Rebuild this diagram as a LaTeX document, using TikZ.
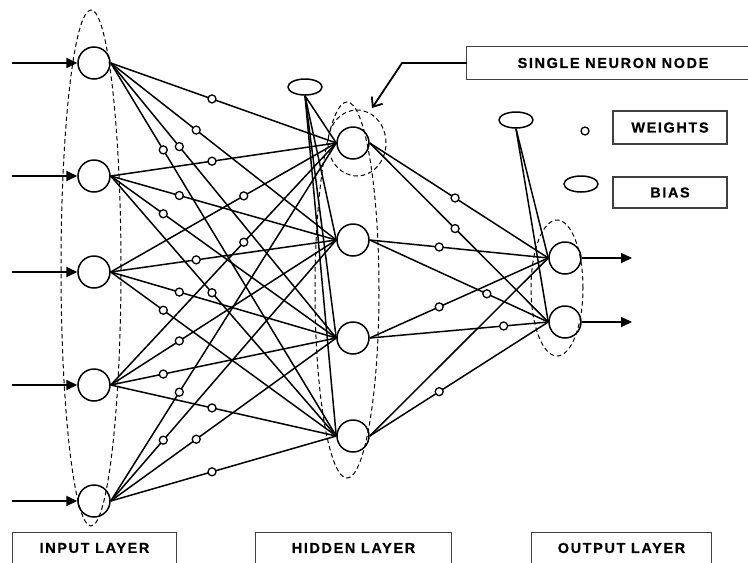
\documentclass[tikz,border=0pt]{standalone}
\usepackage{fontspec}
\setmainfont{Liberation Sans}
\usetikzlibrary{arrows.meta,shapes.geometric}

\begin{document}
\begin{tikzpicture}[x=1pt,y=-1pt,
  neuron/.style={circle,draw,line width=1.5pt,minimum size=32pt,inner sep=0pt},
  biasnode/.style={ellipse,draw,line width=1.5pt,minimum width=34pt,minimum height=16pt,inner sep=0pt},
  link/.style={line width=1.5pt},
  wt/.style={circle,draw,line width=1.3pt,fill=white,minimum size=8pt,inner sep=0pt},
  group/.style={dash pattern=on 4.5pt off 3pt,line width=1pt},
  lbl/.style={font=\bfseries\fontsize{14.5}{16}\selectfont\addfontfeatures{LetterSpace=11,FakeBold=0.5},inner sep=0pt},
  frame/.style={line width=1.3pt,draw=black!75},
  feed/.style={line width=2pt,-{Triangle[length=11pt,width=10pt]}}
]
\useasboundingbox (0,0) rectangle (748,563);

% layer groupings
\draw[group] (91,268) ellipse [x radius=30pt, y radius=258pt];
\draw[group] (347,290) ellipse [x radius=32pt, y radius=188pt];
\draw[group] (557,288) ellipse [x radius=26pt, y radius=68pt];
\draw[group] (357,143) ellipse [x radius=29pt, y radius=33pt];

% neurons
\foreach \i/\y in {1/63,2/176,3/272,4/385,5/501}
  \node[neuron] (I\i) at (94,\y) {};
\foreach \j/\y in {1/143,2/240,3/338,4/436}
  \node[neuron] (H\j) at (353,\y) {};
\node[neuron] (O1) at (565,258) {};
\node[neuron] (O2) at (565,322) {};

% biases
\node[biasnode] (hb) at (305,87) {};
\node[biasnode] (ob) at (516,120) {};
\foreach \j in {1,...,4}
  \draw[link] (hb.south) -- (H\j.west);
\draw[link] (ob.south) -- (O1.west);
\draw[link] (ob.south) -- (O2.west);

% input -> hidden weights
\foreach \i/\j/\t in {
  1/1/.449,1/2/.379,1/3/.304,1/4/.233,
  2/1/.449,2/2/.304,2/3/.233,2/4/.449,
  3/1/.590,3/2/.379,3/3/.304,3/4/.233,
  4/1/.590,4/2/.304,4/3/.233,4/4/.449,
  5/1/.304,5/2/.233,5/3/.379,5/4/.449}
  \draw[link] (I\i.east) -- node[wt,pos=\t] (w\i\j) {} (H\j.west);

% hidden -> output weights
\foreach \j/\k/\t in {1/1/.478,1/2/.478,2/1/.389,2/2/.656,3/1/.389,3/2/.75,4/2/.389}
  \draw[link] (H\j.east) -- node[wt,pos=\t] (v\j\k) {} (O\k.west);
\draw[link] (H4.east) -- (O1.west);

% inputs and outputs
\foreach \i/\y in {1/63,2/176,3/272,4/385,5/501} {
  \coordinate (x\i) at (12,\y);
  \draw[feed] (x\i) -- (I\i.west);
}
\coordinate (y1) at (632,258);
\coordinate (y2) at (632,322);
\draw[feed] (O1.east) -- (y1);
\draw[feed] (O2.east) -- (y2);

% single neuron callout
\node[minimum width=281pt,minimum height=32pt,inner sep=0pt] (snnbox) at (607.5,63) {};
\draw[frame] (snnbox.north east) -- (snnbox.north west) -- (snnbox.south west) -- (snnbox.south east);
\node[lbl] (snn) at (613,63) {SINGLE NEURON NODE};
\coordinate (tip) at (372,108);
\draw[line width=1.8pt,-{Straight Barb[length=8pt,width=13pt]}] (snnbox.west) -- (402,63) -- (tip);

% legend
\node[wt] (lw) at (585,131) {};
\node[biasnode] (lb) at (581,184) {};
\node[lbl,frame,draw,minimum width=114pt,minimum height=33pt] (lwt) at (670,127.5) {WEIGHTS};
\node[lbl,frame,draw,minimum width=114pt,minimum height=31pt] (lbt) at (670,192.5) {BIAS};

% layer captions
\foreach \n/\x/\w/\s in {inl/94.5/163/INPUT LAYER,hdl/353.5/195/HIDDEN LAYER,otl/621.5/179/OUTPUT LAYER} {
  \node[lbl,minimum width=\w pt,minimum height=30pt] (\n) at (\x,548) {\s};
  \draw[frame] (\n.south west) -- (\n.north west) -- (\n.north east) -- (\n.south east);
}
\end{tikzpicture}
\end{document}
